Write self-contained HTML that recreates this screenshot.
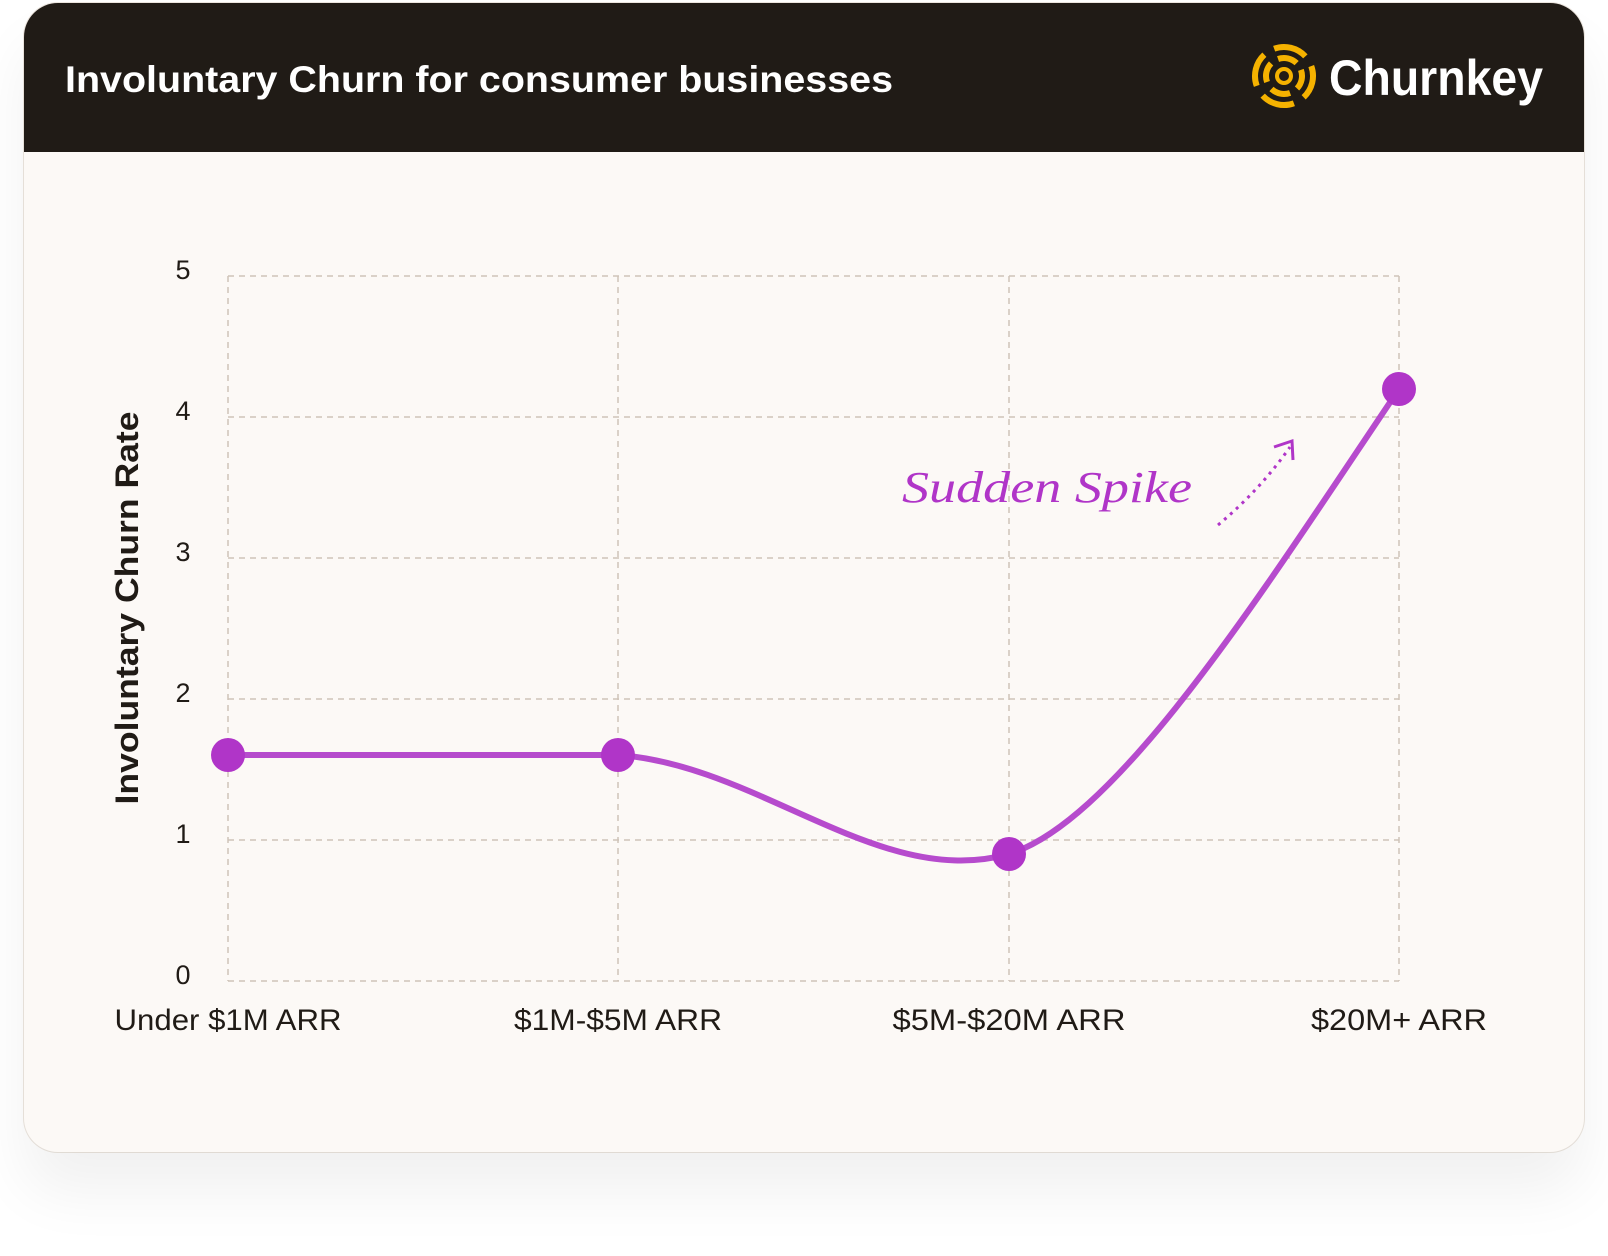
<!DOCTYPE html>
<html><head><style>
body{margin:0;background:#fff;width:1608px;height:1256px;overflow:hidden;font-family:"Liberation Sans",sans-serif}
.card{position:absolute;left:24px;top:3px;width:1560px;height:1149px;background:#fcf9f6;border-radius:34px;box-shadow:0 40px 60px rgba(0,0,0,0.06),0 0 0 1px #ece6df;overflow:hidden}
.hdr{position:absolute;left:0;top:0;width:1560px;height:149px;background:#201b16}
</style></head><body>
<div class="card"><div class="hdr"></div></div>
<svg width="1608" height="1256" style="position:absolute;left:0;top:0">
<text x="65" y="92" font-size="37" font-weight="bold" fill="#fff" textLength="828" lengthAdjust="spacingAndGlyphs">Involuntary Churn for consumer businesses</text>
<g transform="translate(1284,76)" fill="none" stroke="#f5b200" stroke-width="6">
<circle r="29" stroke-dasharray="34 11.5" transform="rotate(-20)"/>
<circle r="18" stroke-dasharray="20 8.3" transform="rotate(-20)"/>
<circle r="7" stroke-width="4"/>
</g>
<text x="1329" y="95" font-size="50" font-weight="bold" fill="#fff" textLength="214" lengthAdjust="spacingAndGlyphs">Churnkey</text>
<g stroke="#cfc4b8" stroke-width="1.5" stroke-dasharray="6 5" fill="none">
<line x1="228" y1="276" x2="1399" y2="276"/><line x1="228" y1="417" x2="1399" y2="417"/>
<line x1="228" y1="558" x2="1399" y2="558"/><line x1="228" y1="699" x2="1399" y2="699"/>
<line x1="228" y1="840" x2="1399" y2="840"/><line x1="228" y1="981" x2="1399" y2="981"/>
<line x1="228" y1="276" x2="228" y2="981"/><line x1="618" y1="276" x2="618" y2="981"/>
<line x1="1009" y1="276" x2="1009" y2="981"/><line x1="1399" y1="276" x2="1399" y2="981"/>
</g>
<g font-size="27" fill="#201b16" text-anchor="middle">
<text x="183" y="279">5</text><text x="183" y="420">4</text><text x="183" y="561">3</text>
<text x="183" y="702">2</text><text x="183" y="843">1</text><text x="183" y="984">0</text>
</g>
<g font-size="30" fill="#201b16" text-anchor="middle" lengthAdjust="spacingAndGlyphs">
<text x="228" y="1030" textLength="227" lengthAdjust="spacingAndGlyphs">Under $1M ARR</text>
<text x="618" y="1030" textLength="208" lengthAdjust="spacingAndGlyphs">$1M-$5M ARR</text>
<text x="1009" y="1030" textLength="233" lengthAdjust="spacingAndGlyphs">$5M-$20M ARR</text>
<text x="1399" y="1030" textLength="176" lengthAdjust="spacingAndGlyphs">$20M+ ARR</text>
</g>
<text transform="translate(138,608) rotate(-90)" text-anchor="middle" font-size="32" font-weight="bold" fill="#201b16" textLength="393" lengthAdjust="spacingAndGlyphs">Involuntary Churn Rate</text>
<path d="M228 755 L618 755 C760 765 880 890 1009 854 C1120 820 1270 580 1399 389" fill="none" stroke="#b64bcd" stroke-width="6"/>
<g fill="#b035c8"><circle cx="228" cy="755" r="17"/><circle cx="618" cy="755" r="17"/><circle cx="1009" cy="854" r="17"/><circle cx="1399" cy="389" r="17"/></g>
<text x="902" y="502" font-size="44" font-style="italic" fill="#b035c8" font-family="Liberation Serif" textLength="290" lengthAdjust="spacingAndGlyphs">Sudden Spike</text>
<path d="M1218 525 Q1260 490 1290 447" fill="none" stroke="#b035c8" stroke-width="3" stroke-dasharray="3 5"/>
<path d="M1274 447 L1292 441 L1293 460" fill="none" stroke="#b035c8" stroke-width="3"/>
</svg>
</body></html>
